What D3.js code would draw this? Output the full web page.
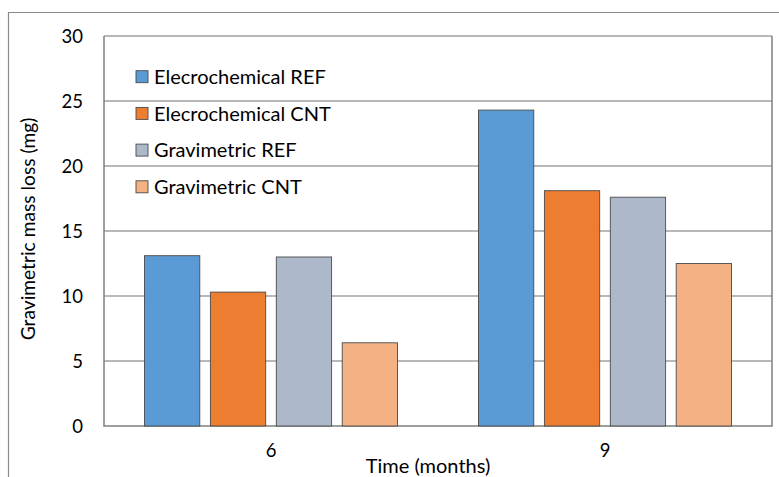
<!DOCTYPE html>
<html>
<head>
<meta charset="utf-8">
<script src="https://cdn.jsdelivr.net/npm/d3@7"></script>
<style>
  html, body { margin: 0; padding: 0; background: #fff; }
  svg { display: block; font-family: Lato, "Open Sans", sans-serif; }
</style>
</head>
<body>
<svg id="chart" width="779" height="477"></svg>
<script>
// ---- data ----
const categories = ["6", "9"];
const seriesNames = ["Elecrochemical REF", "Elecrochemical CNT", "Gravimetric REF", "Gravimetric CNT"];
const seriesColors = ["#5B9BD5", "#ED7D31", "#ADB9CA", "#F4B183"];
const elecREF = [13.1, 24.3];
const elecCNT = [10.3, 18.1];
const gravREF = [13.0, 17.6];
const gravCNT = [6.4, 12.5];
const seriesValues = [elecREF, elecCNT, gravREF, gravCNT];
const yTicks = [0, 5, 10, 15, 20, 25, 30];
const yTitle = "Gravimetric mass loss (mg)";
const xTitle = "Time (months)";

// ---- layout ----
const svg = d3.select("#chart");
const pLeft = 104, pRight = 772, pTop = 36, pBottom = 426;

// outer frame (top and left edges visible)
svg.append("path")
  .attr("d", `M8.5,477 L8.5,12.5 L779,12.5`)
  .attr("fill", "none").attr("stroke", "#8a8a8a").attr("stroke-width", 1.2);

const y = d3.scaleLinear().domain([0, 30]).range([pBottom, pTop]);
const x0 = d3.scaleBand().domain(categories).range([pLeft, pRight])
  .paddingInner(0.2425).paddingOuter(0.12125);
const x1 = d3.scaleBand().domain(seriesNames).range([0, x0.bandwidth()])
  .paddingInner(0.161).paddingOuter(0);

// gridlines
svg.append("g").selectAll("line").data(yTicks.filter(t => t > 0)).join("line")
  .attr("x1", pLeft).attr("x2", pRight)
  .attr("y1", d => y(d)).attr("y2", d => y(d))
  .attr("stroke", "#a0a0a0").attr("stroke-width", 1.3);

// plot area border (left, bottom, right)
svg.append("path")
  .attr("d", `M${pLeft},${pTop} L${pLeft},${pBottom} L${pRight},${pBottom} L${pRight},${pTop}`)
  .attr("fill", "none").attr("stroke", "#7f7f7f").attr("stroke-width", 1.5);

// bars
const rows = [];
categories.forEach((c, i) => seriesNames.forEach((s, j) => rows.push({ c, s, j, v: seriesValues[j][i] })));
svg.append("g").selectAll("rect").data(rows).join("rect")
  .attr("x", d => x0(d.c) + x1(d.s))
  .attr("y", d => y(d.v))
  .attr("width", x1.bandwidth())
  .attr("height", d => y(0) - y(d.v))
  .attr("fill", d => seriesColors[d.j])
  .attr("stroke", "#4a4a4a").attr("stroke-width", 0.9);

// y axis labels
const yAxis = d3.axisLeft(y).tickValues(yTicks).tickSize(0).tickPadding(0).tickFormat(d3.format("d"));
const yg = svg.append("g").attr("transform", `translate(83,0)`).call(yAxis);
yg.select(".domain").remove();
yg.selectAll("text").attr("font-size", 18.5).attr("fill", "#000")
  .attr("font-family", "Lato").attr("dy", "0.36em");

// x axis labels
const xAxis = d3.axisBottom(x0).tickSize(0).tickPadding(0);
const xg = svg.append("g").attr("transform", `translate(0,${pBottom + 18})`).call(xAxis);
xg.select(".domain").remove();
xg.selectAll("text").attr("font-size", 18.5).attr("fill", "#000").attr("font-family", "Lato");

// axis titles
svg.append("text").attr("x", 428).attr("y", 473).attr("text-anchor", "middle")
  .attr("font-size", 20).attr("fill", "#000").text(xTitle);
svg.append("text").attr("transform", "translate(35,229) rotate(-90)")
  .attr("text-anchor", "middle").attr("font-size", 19.2).attr("fill", "#000").text(yTitle);

// legend
const lg = svg.append("g").selectAll("g").data(seriesNames).join("g")
  .attr("transform", (d, i) => `translate(136,${76.7 + i * 36.7})`);
lg.append("rect").attr("x", 0).attr("y", -6).attr("width", 12).attr("height", 12)
  .attr("fill", (d, i) => seriesColors[i]).attr("stroke", "#4a4a4a").attr("stroke-width", 0.9);
lg.append("text").attr("x", 18).attr("y", 0).attr("dy", "0.36em")
  .attr("font-size", 20).attr("fill", "#000").text(d => d);
</script>
</body>
</html>
